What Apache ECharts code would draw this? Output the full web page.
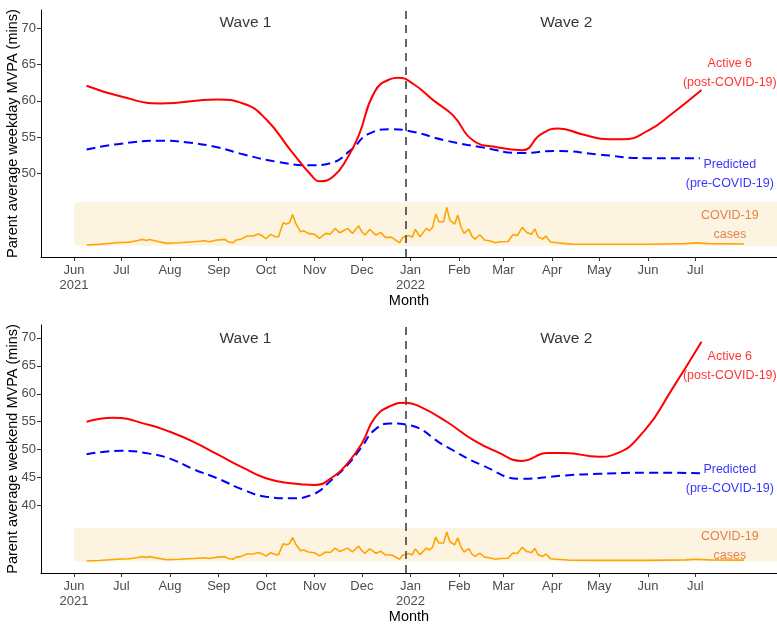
<!DOCTYPE html>
<html>
<head>
<meta charset="utf-8">
<script src="https://cdn.jsdelivr.net/npm/echarts@6/dist/echarts.min.js"></script>
<style>html,body{margin:0;padding:0;background:#fff}#c{width:777px;height:625px}</style>
</head>
<body>
<div id="c"></div>
<script>
// ---------- DATA ----------
const tickDates = ['2021-06-01','2021-07-01','2021-08-01','2021-09-01','2021-10-01','2021-11-01','2021-12-01','2022-01-01','2022-02-01','2022-03-01','2022-04-01','2022-05-01','2022-06-01','2022-07-01'];
const tickLabels = ['Jun\n2021','Jul','Aug','Sep','Oct','Nov','Dec','Jan\n2022','Feb','Mar','Apr','May','Jun','Jul'];
const yTicksTop = [50,55,60,65,70];
const yTicksBottom = [40,45,50,55,60,65,70];

const weekdayActiveDates = ['2021-06-09','2021-07-01','2021-07-26','2021-08-31','2021-09-17','2021-10-01','2021-10-17','2021-10-30','2021-11-04','2021-11-13','2021-11-22','2021-11-29','2021-12-09','2021-12-19','2021-12-24','2022-01-03','2022-01-16','2022-01-28','2022-02-10','2022-02-25','2022-03-13','2022-03-25','2022-04-05','2022-04-20','2022-05-07','2022-05-16','2022-06-01','2022-06-16','2022-07-05'];
const weekdayActive = [62.1,60.6,59.65,60.2,59.6,57.5,53.1,49.7,48.9,49.6,52.2,55.2,61.2,63.0,63.2,62.3,60.0,58.0,54.5,53.6,53.2,55.4,56.2,55.4,54.7,54.7,55.9,58.2,61.5];

const weekdayPredDates = ['2021-06-09','2021-07-01','2021-07-26','2021-08-11','2021-08-31','2021-09-17','2021-10-08','2021-10-30','2021-11-11','2021-11-24','2021-12-05','2021-12-20','2021-12-30','2022-01-24','2022-02-15','2022-03-13','2022-04-03','2022-05-01','2022-05-30','2022-07-04'];
const weekdayPred = [53.3,54.1,54.5,54.3,53.6,52.6,51.6,51.1,51.4,53.2,55.4,56.1,55.9,54.5,53.6,52.8,53.1,52.6,52.1,52.1];

const weekendActiveDates = ['2021-06-09','2021-06-26','2021-07-19','2021-08-01','2021-08-16','2021-08-31','2021-09-17','2021-10-01','2021-10-17','2021-11-01','2021-11-13','2021-11-22','2021-12-01','2021-12-09','2021-12-19','2021-12-29','2022-01-07','2022-01-24','2022-02-10','2022-02-25','2022-03-13','2022-03-29','2022-04-09','2022-05-01','2022-05-11','2022-05-30','2022-06-16','2022-07-05'];
const weekendActive = [55.0,55.7,54.4,53.2,51.4,49.2,46.7,44.9,44.0,43.7,45.2,47.6,51.1,55.6,57.8,58.4,57.7,55.0,51.7,49.6,48.0,49.4,49.4,48.75,49.2,53.5,60.7,69.3];

const weekendPredDates = ['2021-06-09','2021-07-01','2021-07-19','2021-08-01','2021-08-16','2021-08-31','2021-09-17','2021-10-01','2021-10-17','2021-10-30','2021-11-13','2021-11-22','2021-12-01','2021-12-09','2021-12-19','2021-12-29','2022-01-24','2022-02-15','2022-03-13','2022-04-09','2022-05-01','2022-06-01','2022-07-04'];
const weekendPred = [49.2,49.8,49.3,48.4,46.5,44.9,42.8,41.6,41.3,41.9,44.9,47.3,50.5,53.5,54.7,54.5,50.5,47.3,44.8,45.4,45.7,45.9,45.8];

// COVID-19 cases, as height above the bottom of the shaded band (band is 6 units tall)
const casesDates = ['2021-06-09','2021-06-17','2021-06-28','2021-07-06','2021-07-11','2021-07-14','2021-07-17','2021-07-19','2021-07-23','2021-07-30','2021-08-07','2021-08-16','2021-08-23','2021-08-26','2021-08-31','2021-09-05','2021-09-07','2021-09-10','2021-09-12','2021-09-15','2021-09-19','2021-09-23','2021-09-26','2021-09-29','2021-10-01','2021-10-04','2021-10-07','2021-10-09','2021-10-12','2021-10-14','2021-10-16','2021-10-18','2021-10-20','2021-10-23','2021-10-25','2021-10-28','2021-11-01','2021-11-04','2021-11-08','2021-11-11','2021-11-14','2021-11-17','2021-11-22','2021-11-25','2021-11-29','2021-12-01','2021-12-03','2021-12-06','2021-12-10','2021-12-13','2021-12-16','2021-12-20','2021-12-25','2021-12-27','2021-12-31','2022-01-02','2022-01-04','2022-01-07','2022-01-11','2022-01-13','2022-01-15','2022-01-17','2022-01-19','2022-01-22','2022-01-24','2022-01-26','2022-01-29','2022-01-31','2022-02-02','2022-02-04','2022-02-07','2022-02-09','2022-02-11','2022-02-14','2022-02-17','2022-02-20','2022-02-24','2022-02-27','2022-03-04','2022-03-07','2022-03-10','2022-03-11','2022-03-13','2022-03-16','2022-03-19','2022-03-21','2022-03-23','2022-03-26','2022-03-28','2022-03-31','2022-04-04','2022-04-08','2022-04-13','2022-05-01','2022-06-01','2022-06-25','2022-07-01','2022-07-10','2022-08-01'];
const casesIndex = [0.1,0.19,0.41,0.5,0.69,0.88,0.74,0.88,0.65,0.33,0.41,0.55,0.69,0.55,0.79,0.88,0.55,0.41,0.79,0.88,1.34,1.34,1.61,1.34,0.97,1.57,1.24,1.24,3.17,3.0,3.17,4.33,3.09,1.93,2.07,1.71,1.57,1.02,1.71,1.61,2.4,1.79,2.4,1.71,2.76,1.93,1.48,2.26,1.48,1.85,1.16,1.16,0.41,1.16,1.43,1.16,2.26,1.24,2.4,2.07,2.54,4.37,3.31,3.31,5.3,3.54,2.99,4.23,2.62,1.71,2.3,1.34,0.92,1.52,0.79,0.69,0.41,0.55,0.6,1.52,1.43,1.61,2.54,1.79,1.61,2.34,1.24,0.92,1.34,0.51,0.41,0.33,0.23,0.2,0.2,0.3,0.4,0.3,0.25];

const bandTop = {lo: 40, hi: 46};
const bandBottom = {lo: 30, hi: 36};
const bandStart = '2021-06-01';
const xMin = '2021-05-11', xMax = '2022-08-22';
const divider = '2021-12-29';
const waveLabels = [{text:'Wave 1', date:'2021-09-18'},{text:'Wave 2', date:'2022-04-10'}];
const annotDate = '2022-07-23';

// ---------- BUILD ----------
function ts(s){const p=s.split('-').map(Number);return new Date(p[0],p[1]-1,p[2]).getTime();}
const tickTs = tickDates.map(ts);
const pairs = (d,v,off)=>d.map((s,i)=>[ts(s), v[i]+(off||0)]);
const FONT = '"Liberation Sans", Arial, sans-serif';

function xAxis(gi){
  return {
    type:'value', gridIndex:gi, min:ts(xMin), max:ts(xMax),
    name:'Month', nameLocation:'middle', nameGap:36, nameMoveOverlap:false,
    nameTextStyle:{fontFamily:FONT,fontSize:14.5,color:'#000'},
    axisLine:{show:true,onZero:false,lineStyle:{color:'#000',width:1}},
    axisTick:{show:true,length:4,lineStyle:{color:'#333'},customValues:tickTs},
    axisLabel:{customValues:tickTs,margin:6,fontFamily:FONT,fontSize:13,color:'#4d4d4d',lineHeight:15,
      formatter:v=>{const i=tickTs.indexOf(v);return i>=0?tickLabels[i]:'';}},
    splitLine:{show:false}
  };
}
function yAxis(gi,min,max,ticks,name){
  return {
    type:'value', gridIndex:gi, min:min, max:max,
    name:name, nameLocation:'middle', nameGap:21, nameMoveOverlap:false,
    nameTextStyle:{fontFamily:FONT,fontSize:14.5,color:'#000'},
    axisLine:{show:true,onZero:false,lineStyle:{color:'#000',width:1}},
    axisTick:{show:true,length:4,lineStyle:{color:'#333'},customValues:ticks},
    axisLabel:{customValues:ticks,margin:5,fontFamily:FONT,fontSize:13,color:'#4d4d4d'},
    splitLine:{show:false}
  };
}
function panelSeries(gi, active, pred, band, annY, waveY){
  const lab = (txt,color,size)=>({show:true,position:'inside',formatter:txt,color:color,fontFamily:FONT,fontSize:size,lineHeight:19,align:'center',verticalAlign:'middle'});
  return [
    {type:'line',xAxisIndex:gi,yAxisIndex:gi,data:pairs(casesDates,casesIndex,band.lo),showSymbol:false,
     lineStyle:{color:'#FFA500',width:1.6},z:3,silent:true,
     markArea:{silent:true,itemStyle:{color:'#FDF3E1'},data:[[{coord:[ts(bandStart),band.lo]},{coord:[ts(xMax),band.hi]}]]},
     markLine:{silent:true,symbol:['none','none'],label:{show:false},lineStyle:{color:'#666',width:2,type:[8,6]},data:[{xAxis:ts(divider)}]}},
    {type:'line',xAxisIndex:gi,yAxisIndex:gi,data:pairs(pred[0],pred[1]),showSymbol:false,smooth:0.5,
     lineStyle:{color:'#0000FF',width:2,type:[9,5]},z:4},
    {type:'line',xAxisIndex:gi,yAxisIndex:gi,data:pairs(active[0],active[1]),showSymbol:false,smooth:0.5,
     lineStyle:{color:'#FF0000',width:2},z:5},
    {type:'scatter',xAxisIndex:gi,yAxisIndex:gi,symbolSize:1,itemStyle:{color:'rgba(0,0,0,0)'},silent:true,z:6,
     data:[
       {value:[ts(waveLabels[0].date),waveY],label:lab(waveLabels[0].text,'#000',15.5)},
       {value:[ts(waveLabels[1].date),waveY],label:lab(waveLabels[1].text,'#000',15.5)},
       {value:[ts(annotDate),annY[0]],label:lab('Active 6\n(post-COVID-19)','#FF0000',12.5)},
       {value:[ts(annotDate),annY[1]],label:lab('Predicted\n(pre-COVID-19)','#0000FF',12.5)},
       {value:[ts(annotDate),annY[2]],label:lab('COVID-19\ncases','#DD6425',12.5)}
     ]}
  ];
}

const option = {
  animation:false,
  backgroundColor:'#fff',
  grid:[{left:41,right:0,top:10,height:247,outerBoundsMode:'none',containLabel:false},
        {left:41,right:0,top:325,height:248,outerBoundsMode:'none',containLabel:false}],
  xAxis:[xAxis(0),xAxis(1)],
  yAxis:[yAxis(0,38.45,72.55,yTicksTop,'Parent average weekday MVPA (mins)'),
         yAxis(1,27.95,72.3,yTicksBottom,'Parent average weekend MVPA (mins)')],
  series:[].concat(
    panelSeries(0,[weekdayActiveDates,weekdayActive],[weekdayPredDates,weekdayPred],bandTop,[63.8,49.9,42.9],70.8),
    panelSeries(1,[weekendActiveDates,weekendActive],[weekendPredDates,weekendPred],bandBottom,[64.9,44.8,32.7],69.9)
  )
};
const chart = echarts.init(document.getElementById('c'),null,{renderer:'canvas'});
chart.setOption(option);
</script>
</body>
</html>
